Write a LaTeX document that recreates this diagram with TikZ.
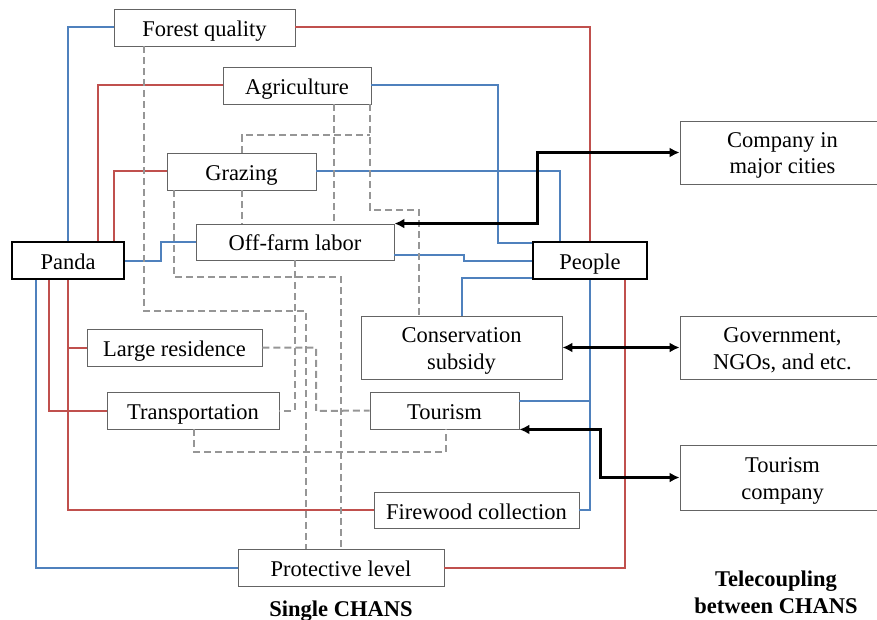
\documentclass[tikz,border=0pt]{standalone}
\usepackage{fontspec}
\setmainfont{Liberation Serif}
\usetikzlibrary{arrows.meta}
\definecolor{lnblue}{HTML}{4F81BD}
\definecolor{lnred}{HTML}{C0504D}
\definecolor{dashgray}{RGB}{150,150,150}
\definecolor{boxgray}{RGB}{100,100,100}
\newcommand{\OneLn}[1]{\raisebox{-9pt}[0pt][0pt]{#1}}
\newcommand{\TwoLn}[2]{\raisebox{-21.5pt}[0pt][0pt]{\begin{tabular}[b]{@{}c@{}}#1\\#2\end{tabular}}}
\begin{document}
\begin{tikzpicture}[x=1pt,y=-1pt,
  font=\fontsize{22.5}{26.5}\selectfont,
  box/.style={draw=boxgray, line width=0.9pt, fill=white, inner sep=0pt},
  mainbox/.style={draw=black, line width=2.4pt, fill=white, inner sep=0pt},
  bl/.style={draw=lnblue, line width=2pt},
  rd/.style={draw=lnred, line width=2pt},
  gd/.style={draw=dashgray, line width=2pt, dash pattern=on 7pt off 4pt},
  blk/.style={draw=black, line width=3pt, {Latex[length=10pt,width=10pt]}-{Latex[length=10pt,width=10pt]}},
  lbl/.style={font=\fontsize{22.5}{27}\selectfont\bfseries, align=center}
]
\useasboundingbox (0,0) rectangle (877,620);

% nodes
\node[box, minimum width=181pt, minimum height=37pt] (fq) at (204.5,27.5) {\OneLn{Forest quality}};
\node[box, minimum width=148pt, minimum height=37pt] (agr) at (297,85.5) {\OneLn{Agriculture}};
\node[box, minimum width=149pt, minimum height=37pt] (graz) at (241.5,171.5) {\OneLn{Grazing}};
\node[box, minimum width=198pt, minimum height=36pt] (off) at (295,242) {\OneLn{Off-farm labor}};
\node[mainbox, minimum width=112pt, minimum height=37pt] (panda) at (68,260.5) {\OneLn{Panda}};
\node[mainbox, minimum width=114pt, minimum height=37pt] (people) at (590,260.5) {\OneLn{People}};
\node[box, minimum width=201pt, minimum height=63pt] (cons) at (461.5,347.5) {\TwoLn{Conservation}{subsidy}};
\node[box, minimum width=149pt, minimum height=37pt] (tour) at (444.5,410.5) {\OneLn{Tourism}};
\node[box, minimum width=205pt, minimum height=36pt] (fire) at (476.5,510) {\OneLn{Firewood collection}};
\node[box, minimum width=206pt, minimum height=37pt] (prot) at (341,567.5) {\OneLn{Protective level}};
\node[box, minimum width=175pt, minimum height=37pt] (large) at (174.5,347.5) {\OneLn{Large residence}};
\node[box, minimum width=172pt, minimum height=37pt] (trans) at (193,410.5) {\OneLn{Transportation}};
\node[box, minimum width=205pt, minimum height=63pt] (comp) at (782.5,152.5) {\TwoLn{Company in}{major cities}};
\node[box, minimum width=205pt, minimum height=63pt] (gov) at (782.5,347.5) {\TwoLn{Government,}{NGOs, and etc.}};
\node[box, minimum width=205pt, minimum height=65pt] (tc) at (782.5,477.5) {\TwoLn{Tourism}{company}};
\node[lbl, anchor=base] (single) at (341,616) {Single CHANS};
\node[lbl, anchor=base] (tele1) at (776,586) {Telecoupling};
\node[lbl, anchor=base] (tele2) at (776,613) {between CHANS};

% blue connectors
\draw[bl] (fq.west) -| (68,0 |- panda.north);
\draw[bl] (agr.east) -| (498,243) -- (people.west |- 0,243);
\draw[bl] (graz.east) -| (560,0 |- people.north);
\draw[bl] (off.east |- 0,255) -- (464,255) -- (464,261) -- (people.west |- 0,261);
\draw[bl] (panda.east) -- (161,0 |- panda.east) -- (161,242) -- (off.west);
\draw[bl] (people.west |- 0,278) -| (462,0 |- cons.north);
\draw[bl] (people.south) |- (fire.east);
\coordinate (tj) at (590,401);
\draw[bl] (tour.east |- tj) -- (tj);
\draw[bl] (36,0 |- panda.south) |- (prot.west);

% red connectors
\draw[rd] (fq.east) -| (people.north);
\draw[rd] (agr.west) -| (98,0 |- panda.north);
\draw[rd] (graz.west) -| (114,0 |- panda.north);
\draw[rd] (49,0 |- panda.south) |- (trans.west);
\draw[rd] (68,0 |- panda.south) |- (fire.west);
\draw[rd] (68,0 |- large.west) -- (large.west);
\draw[rd] (625,0 |- people.south) |- (prot.east);

% gray dashed connectors
\draw[gd] (144,0 |- fq.south) -- (144,311) -- (306,311) -- (306,0 |- prot.north);
\draw[gd] (334,0 |- agr.south) -- (334,0 |- off.north);
\draw[gd] (370,0 |- agr.south) -- (370,210) -- (419,210) -- (419,0 |- cons.north);
\coordinate (gj) at (370,135);
\draw[gd] (242,0 |- graz.north) -- (242,135) -- (gj);
\draw[gd] (242,0 |- graz.south) -- (242,0 |- off.north);
\draw[gd] (174,0 |- graz.south) -- (174,277) -- (341,277) -- (341,0 |- prot.north);
\draw[gd] (295,0 |- off.south) |- (trans.east);
\draw[gd] (large.east) -- (316,0 |- large.east) -- (316,411) -- (tour.west);
\draw[gd] (194,0 |- trans.south) -- (194,452) -- (446,452) -- (446,0 |- tour.south);

% black telecoupling arrows
\draw[blk] (off.north east) -- (537,0 |- off.north east) -- (537,0 |- comp.west) -- (comp.west);
\draw[blk] (cons.east) -- (gov.west);
\draw[blk] (tour.south east) -- (600,0 |- tour.south east) -- (600,0 |- tc.west) -- (tc.west);
\end{tikzpicture}
\end{document}
